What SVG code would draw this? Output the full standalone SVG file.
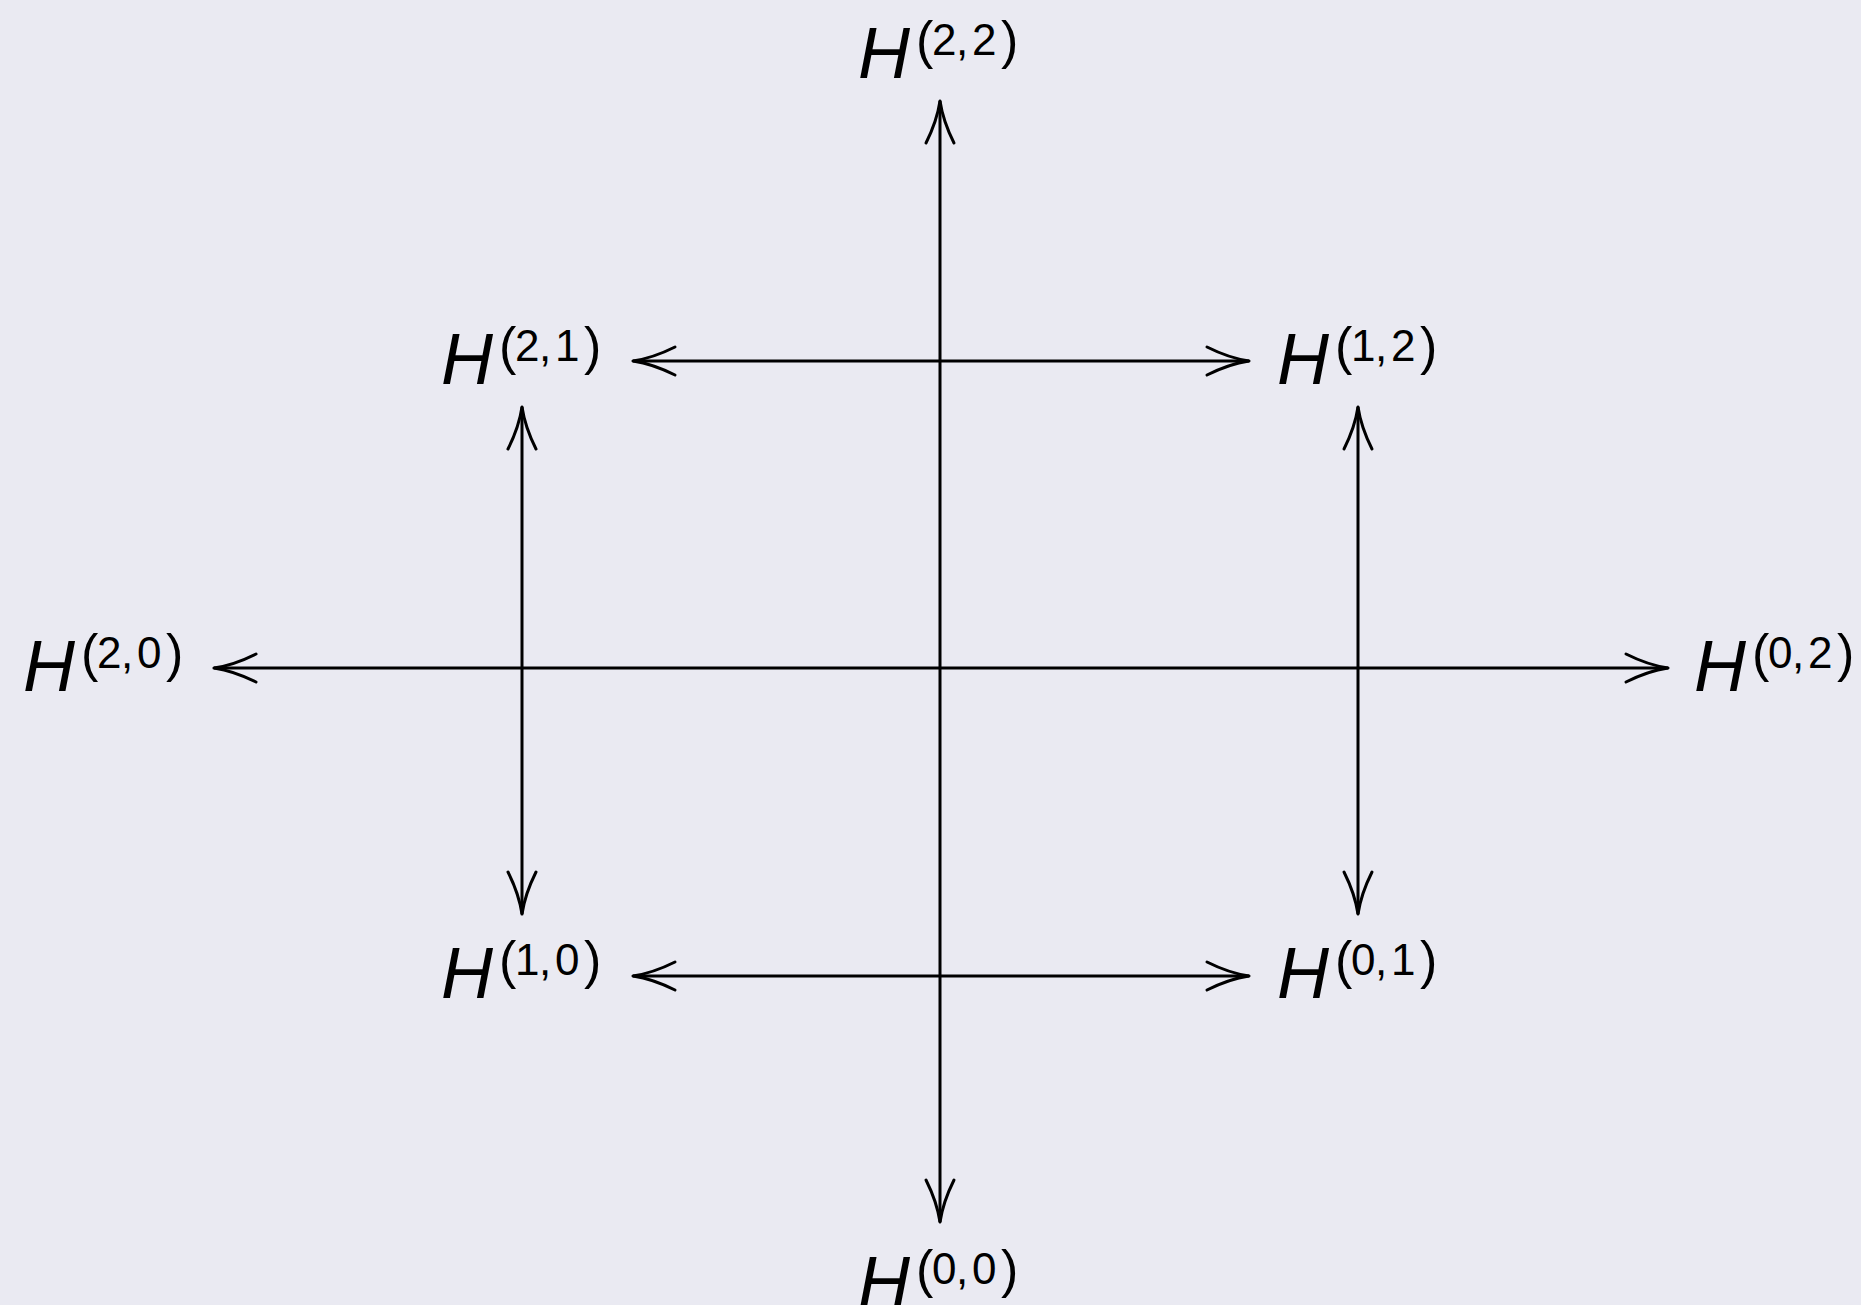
<svg xmlns="http://www.w3.org/2000/svg" width="1861" height="1305" viewBox="0 0 1861 1305">
<style>
.bg{fill:#EAEAF2}
.c line{stroke:#000;stroke-width:3;fill:none;marker-start:url(#to);marker-end:url(#to)}
.H{font-family:"Liberation Sans",Arial,sans-serif;font-style:italic;font-size:72px;fill:#000}
.p{font-family:"Liberation Sans",Arial,sans-serif;font-size:52px;fill:#000}
.d{font-family:"Liberation Sans",Arial,sans-serif;font-size:44px;fill:#000}
</style>
<defs>
<marker id="to" viewBox="-50 -20 60 40" markerWidth="60" markerHeight="40" refX="0" refY="0" markerUnits="userSpaceOnUse" orient="auto-start-reverse" overflow="visible">
<path d="M-42,-14 Q-20,-3 0,0 M-42,14 Q-20,3 0,0" fill="none" stroke="#000" stroke-width="3" stroke-linecap="round"/>
</marker>
</defs>
<rect class="bg" x="0" y="0" width="1861" height="1305"/>
<g id="connectors" class="c">
<line x1="940" y1="1222" x2="940" y2="101"/>
<line x1="1668" y1="668" x2="214" y2="668"/>
<line x1="522" y1="914" x2="522" y2="407"/>
<line x1="1358" y1="914" x2="1358" y2="407"/>
<line x1="1249" y1="361" x2="633" y2="361"/>
<line x1="1249" y1="976" x2="633" y2="976"/>
</g>
<g id="H22" transform="translate(859,78)"><text><tspan class="H" x="-1" y="0">H</tspan><tspan class="p" x="57" y="-20">(</tspan><tspan class="d" x="73 97 113" y="-23">2,2</tspan><tspan class="p" x="142" y="-20">)</tspan></text></g>
<g id="H21" transform="translate(442,384)"><text><tspan class="H" x="-1" y="0">H</tspan><tspan class="p" x="57" y="-20">(</tspan><tspan class="d" x="73 97 113" y="-23">2,1</tspan><tspan class="p" x="142" y="-20">)</tspan></text></g>
<g id="H12" transform="translate(1278,384)"><text><tspan class="H" x="-1" y="0">H</tspan><tspan class="p" x="57" y="-20">(</tspan><tspan class="d" x="73 97 113" y="-23">1,2</tspan><tspan class="p" x="142" y="-20">)</tspan></text></g>
<g id="H20" transform="translate(24,691)"><text><tspan class="H" x="-1" y="0">H</tspan><tspan class="p" x="57" y="-20">(</tspan><tspan class="d" x="73 97 113" y="-23">2,0</tspan><tspan class="p" x="142" y="-20">)</tspan></text></g>
<g id="H02" transform="translate(1695,691)"><text><tspan class="H" x="-1" y="0">H</tspan><tspan class="p" x="57" y="-20">(</tspan><tspan class="d" x="73 97 113" y="-23">0,2</tspan><tspan class="p" x="142" y="-20">)</tspan></text></g>
<g id="H10" transform="translate(442,998)"><text><tspan class="H" x="-1" y="0">H</tspan><tspan class="p" x="57" y="-20">(</tspan><tspan class="d" x="73 97 113" y="-23">1,0</tspan><tspan class="p" x="142" y="-20">)</tspan></text></g>
<g id="H01" transform="translate(1278,998)"><text><tspan class="H" x="-1" y="0">H</tspan><tspan class="p" x="57" y="-20">(</tspan><tspan class="d" x="73 97 113" y="-23">0,1</tspan><tspan class="p" x="142" y="-20">)</tspan></text></g>
<g id="H00" transform="translate(859,1307)"><text><tspan class="H" x="-1" y="0">H</tspan><tspan class="p" x="57" y="-20">(</tspan><tspan class="d" x="73 97 113" y="-23">0,0</tspan><tspan class="p" x="142" y="-20">)</tspan></text></g>
</svg>
